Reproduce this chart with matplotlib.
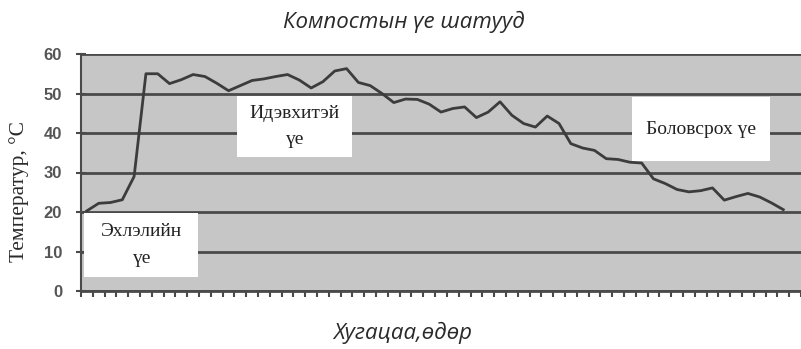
import matplotlib
matplotlib.use("Agg")
import matplotlib.pyplot as plt
from matplotlib.patches import Rectangle
import numpy as np

days = list(range(1, 61))
temperature = [20.3, 22.2, 22.4, 23.1, 29.0, 55.0, 55.0, 52.5, 53.5, 54.8,
               54.3, 52.6, 50.7, 52.0, 53.3, 53.7, 54.3, 54.8, 53.4, 51.4,
               53.0, 55.7, 56.3, 52.8, 52.0, 50.0, 47.7, 48.6, 48.5, 47.3,
               45.3, 46.2, 46.6, 43.9, 45.3, 47.9, 44.5, 42.4, 41.5, 44.3,
               42.4, 37.3, 36.2, 35.6, 33.5, 33.3, 32.6, 32.4, 28.4, 27.2,
               25.7, 25.1, 25.4, 26.1, 23.0, 23.9, 24.7, 23.8, 22.3, 20.6]
yticks = [0, 10, 20, 30, 40, 50, 60]
title = "Компостын үе шатууд"
xlabel = "Хугацаа,өдөр"
ylabel = "Температур, °C"
phase_labels = ["Эхлэлийн\nүе", "Идэвхитэй\nүе", "Боловсрох үе"]

W, H = 801, 349
fig = plt.figure(figsize=(W / 100, H / 100), dpi=100)
ax = fig.add_axes([81 / W, 1 - 291 / H, 720 / W, 237 / H])
ax.set_facecolor("#c6c6c6")

ax.set_xlim(days[0] - 0.5, days[-1] + 1.5)
ax.set_ylim(0, 60)

for y in yticks:
    ax.axhline(y, color="#4a4a4a", lw=2.0, zorder=1)

ax.plot(days, temperature, color="#3c3c3c", lw=2.0, zorder=2)

ax.set_yticks(yticks)
ax.set_yticklabels([str(v) for v in yticks], fontsize=12, fontweight="bold",
                   color="#555555", family="Liberation Sans")
ax.tick_params(axis="y", direction="inout", length=7, width=1.5,
               color="#4a4a4a", pad=10)
ax.set_xticks(np.arange(days[0] - 0.5, days[-1] + 2.0, 1.0))
ax.set_xticklabels([])
ax.tick_params(axis="x", direction="out", length=4, width=1.5, color="#4a4a4a")

for s in ["top", "right"]:
    ax.spines[s].set_visible(False)
ax.spines["left"].set_color("#4a4a4a")
ax.spines["left"].set_linewidth(1.5)
ax.spines["bottom"].set_color("#4a4a4a")
ax.spines["bottom"].set_linewidth(2)

boxes = [((84 - 81) / 720, (291 - 277) / 237, (198 - 84) / 720, 64 / 237),
         ((237 - 81) / 720, (291 - 157) / 237, (352 - 237) / 720, 61 / 237),
         ((632 - 81) / 720, (291 - 161) / 237, (770 - 632) / 720, 64 / 237)]
for (bx, by, bw, bh), lab in zip(boxes, phase_labels):
    ax.add_patch(Rectangle((bx, by), bw, bh, transform=ax.transAxes,
                           facecolor="white", edgecolor="none", zorder=5,
                           clip_on=False))
    ax.text(bx + bw / 2, by + bh / 2, lab, transform=ax.transAxes,
            ha="center", va="center", fontsize=14, family="Liberation Serif",
            color="#222222", zorder=6, linespacing=1.75)

fig.text(404 / W, 1 - 22 / H, title, ha="center", va="center",
         fontsize=16, style="italic", family="Open Sans", color="#2a2a2a")
fig.text(403 / W, 1 - 333 / H, xlabel, ha="center", va="center",
         fontsize=16, style="italic", family="Open Sans", color="#2a2a2a")
fig.text(19 / W, 1 - 192 / H, ylabel, ha="center", va="center", rotation=90,
         fontsize=15.5, family="Liberation Serif", color="#2a2a2a")

fig.savefig("out.png", dpi=100, facecolor="white")
